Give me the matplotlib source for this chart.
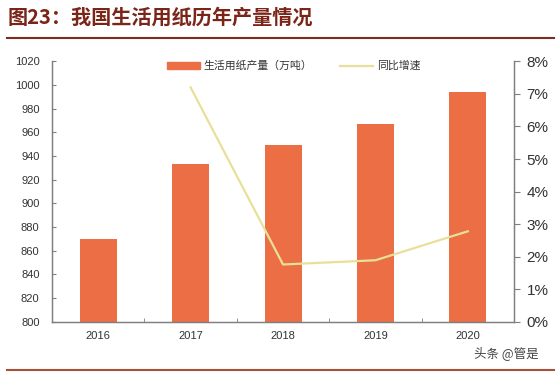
import matplotlib.pyplot as plt
from matplotlib.lines import Line2D
from matplotlib.patches import Patch
from matplotlib.ticker import FuncFormatter

plt.rcParams['font.family'] = ['Liberation Sans', 'Noto Sans CJK SC', 'DejaVu Sans']

# 数据
years = ['2016', '2017', '2018', '2019', '2020']
output = [870, 933, 949, 967, 994]          # 生活用纸产量（万吨）
growth = [None, 7.2, 1.76, 1.89, 2.78]      # 同比增速 %

bar_color = '#EB6E45'
line_color = '#E8E09A'
axis_color = '#7F7F7F'

fig = plt.figure(figsize=(5.6, 3.79), dpi=100)
ax = fig.add_axes([0.0929, 0.151, 0.825, 0.687])
ax2 = ax.twinx()

x = list(range(len(years)))
ax.bar(x, [v - 800 for v in output], bottom=800, width=0.4, color=bar_color, zorder=2)
gx = [i for i, g in zip(x, growth) if g is not None]
gy = [g for g in growth if g is not None]
ax2.plot(gx, gy, color=line_color, lw=1.6, zorder=3)

ax.set_xlim(-0.5, 4.5)
ax.set_ylim(800, 1020)
ax.set_yticks(range(800, 1021, 20))
ax2.set_ylim(0, 8)
ax2.set_yticks(range(0, 9))
ax2.yaxis.set_major_formatter(FuncFormatter(lambda v, p: '%d%%' % v))

ax.set_xticks(x)
ax.set_xticklabels(years)
ax.set_xticks([i + 0.5 for i in x[:-1]], minor=True)
ax.tick_params(axis='x', which='major', length=0, labelsize=8, pad=7, colors='#333333')
ax.tick_params(axis='x', which='minor', direction='in', length=3, color=axis_color)
ax.tick_params(axis='y', direction='in', length=3, color=axis_color, labelsize=8, pad=9, labelcolor='#333333')
ax2.tick_params(axis='y', direction='out', length=4, color=axis_color, labelsize=11, pad=5, labelcolor='#333333')

for a in (ax, ax2):
    a.spines['top'].set_visible(False)
    for s in ('left', 'right', 'bottom'):
        a.spines[s].set_color(axis_color)
        a.spines[s].set_linewidth(0.9)
ax.set_zorder(ax2.get_zorder() - 1)
ax2.patch.set_visible(False)

handles = [Patch(color=bar_color), Line2D([0], [0], color=line_color, lw=1.6)]
ax.legend(handles, ['生活用纸产量（万吨）', '同比增速'], loc='upper center',
          bbox_to_anchor=(0.523, 1.04), ncol=2, frameon=False,
          handlelength=3.0, handleheight=0.6, handletextpad=0.35, columnspacing=2.6,
          labelcolor='#333333', prop={'family': ['Noto Sans CJK SC'], 'size': 7.8})

# 标题和装饰线
fig.text(0.013, 0.955, '图23：我国生活用纸历年产量情况', fontsize=14.5, fontweight='bold',
         color='#7B2418', va='center', family=['Noto Sans CJK SC'])
fig.add_artist(Line2D([0.013, 0.99], [0.9, 0.9], color='#7B2E20', lw=1.5))
fig.add_artist(Line2D([0.013, 0.99], [0.024, 0.024], color='#A8503A', lw=1.5))
fig.text(0.962, 0.068, '头条 @管是', fontsize=9, color='#444444', ha='right', va='center',
         family=['Noto Sans CJK SC'])

fig.savefig('out.png', dpi=100)
